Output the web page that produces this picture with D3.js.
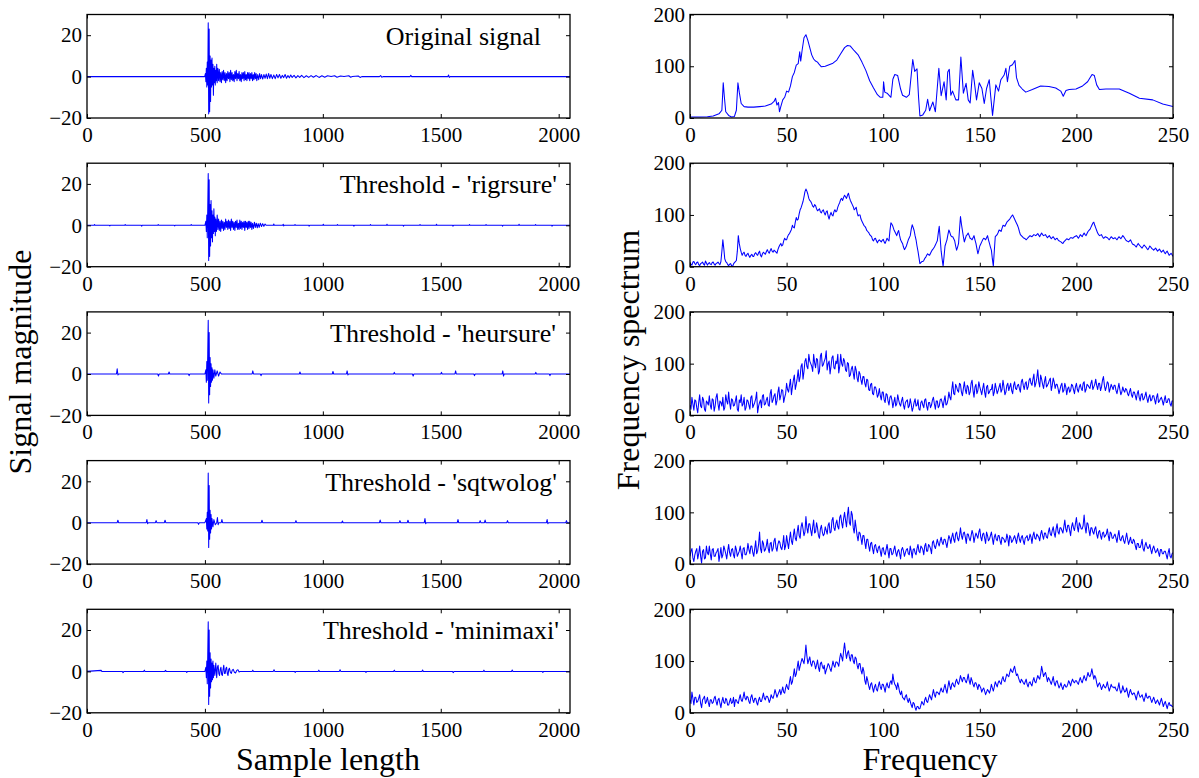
<!DOCTYPE html>
<html><head><meta charset="utf-8">
<script src="https://cdn.jsdelivr.net/npm/d3@7"></script>
<style>html,body{margin:0;padding:0;background:#fff;}</style>
</head><body>
<svg id="c" width="1199" height="778"></svg>
<script>
// ---------------- data ----------------
const leftTitles = ["Original signal","Threshold - 'rigrsure'","Threshold - 'heursure'","Threshold - 'sqtwolog'","Threshold - 'minimaxi'"];
const leftXTicks = [0,500,1000,1500,2000];
const leftYTicks = [-20,0,20];
const rightXTicks = [0,50,100,150,200,250];
const rightYTicks = [0,100,200];

// time-domain signals: [sample, magnitude]
const sigOriginal = [[0,0],[499,0],[502,1.5],[504,-2.5],[506,4],[508,-5],[510,7],[512,-4],[514,26],[516,-18],[518,23],[520,-17],[522,10],[524,-12],[526,8],[528,-5],[530,9],[532,-4],[534,6],[536,-9],[538,4],[540,-3],[542,5],[544,-4],[546,3],[548,-2],[550,6],[552,-3],[555,4],[558,-2],[561,3.5],[564,-2.5],[567,2],[570,-3],[573,2.5],[576,-1.5],[579,3],[582,-2],[585,2],[588,-3],[591,1.5],[594,-2],[597,2.5],[600,-1],[603,2],[606,-2.5],[609,3],[612,-1.5],[615,2],[618,-2],[621,1],[624,-2.5],[627,2.5],[630,-1],[633,3],[636,-2],[639,1.5],[642,-1],[645,2.5],[648,-2],[651,1],[654,-2.5],[657,2],[660,-1],[663,2],[666,-2],[669,2.5],[672,-1.5],[675,1],[678,-2],[681,2],[684,-1],[687,2],[690,-2],[693,1.5],[696,-1],[699,2],[702,-2],[705,1],[708,-1.5],[711,2],[714,-1],[717,1.5],[720,-2],[724,1],[728,-1.5],[732,1.5],[736,-1],[740,1],[745,-1.2],[750,1],[755,-0.8],[760,1.2],[765,-1],[770,1.5],[775,-0.8],[780,1],[786,-1],[792,0.8],[798,-1],[804,1],[810,-0.6],[816,1],[822,-0.8],[828,0.6],[834,-0.5],[840,1],[846,-0.8],[852,0.5],[858,-0.6],[864,0.8],[870,-0.4],[878,0.6],[886,-0.6],[894,0.5],[902,-0.4],[910,0.6],[920,-0.5],[930,0.4],[940,-0.4],[950,0.5],[960,-0.3],[972,0.5],[984,-0.4],[996,0.4],[1008,-0.3],[1020,0.4],[1035,0],[1050,0.4],[1060,-0.3],[1075,0.3],[1090,0],[1110,0.4],[1118,-0.3],[1125,0],[1150,0.3],[1158,-0.4],[1165,0],[1240,0],[1245,0.5],[1250,-0.3],[1255,0],[1370,0],[1373,0.6],[1376,0],[1530,0],[1533,0.8],[1536,-0.4],[1540,0],[2048,0]];
const sigRigrsure = [[0,0],[30,0],[32,0.4],[34,0],[95,0],[97,-0.3],[99,0],[160,0],[162,0.4],[164,0],[230,0],[232,-0.4],[234,0],[300,0],[302,0.4],[304,0],[370,0],[372,-0.3],[374,0],[440,0],[442,0.4],[444,0],[500,0],[504,2],[506,-3],[508,5],[510,-6],[512,8],[514,25],[516,-17],[518,22],[520,-15],[522,10],[524,-10],[526,12],[528,-6],[530,7],[532,-8],[534,5],[536,-4],[538,8],[540,-3],[542,4],[544,-5],[546,3],[549,-3],[552,5],[555,-2],[558,3],[561,-2.5],[564,2],[567,-3],[570,2.5],[573,-1.5],[576,2],[579,-2.5],[582,1.5],[585,-2],[588,3],[591,-1],[594,2],[597,-2],[600,2.5],[603,-1.5],[606,2],[609,-2.5],[612,3],[615,-1],[618,2],[621,-2],[624,1.5],[627,-2.5],[630,2],[633,-1],[636,2.5],[639,-2],[642,1],[645,-2],[648,2.5],[651,-1.5],[654,2],[657,-2],[660,1.5],[663,-1],[666,2],[669,-2.5],[672,2],[675,-1],[678,1.5],[681,-2],[684,2],[687,-1.5],[690,2],[693,-1],[696,1.5],[699,-2],[702,1],[706,-1.5],[710,1.5],[714,-1],[718,1],[722,-1.2],[726,0.8],[730,-1],[735,1],[740,-0.6],[745,0.8],[750,-0.5],[755,0.6],[760,0],[790,0],[792,0.6],[794,0],[830,0],[832,0.5],[834,-0.3],[836,0],[880,0],[882,0.4],[884,0],[940,0],[942,-0.4],[944,0],[1000,0],[1002,0.5],[1004,0],[1060,0],[1062,0.4],[1064,0],[1130,0],[1132,-0.4],[1134,0],[1200,0],[1202,0.4],[1204,0],[1270,0],[1272,0.5],[1274,0],[1340,0],[1342,-0.4],[1344,0],[1410,0],[1412,0.4],[1414,0],[1480,0],[1482,0.5],[1484,0],[1550,0],[1552,-0.4],[1554,0],[1620,0],[1622,0.4],[1624,0],[1690,0],[1692,0.4],[1694,0],[1760,0],[1762,-0.4],[1764,0],[1830,0],[1832,0.5],[1834,0],[1900,0],[1902,0.4],[1904,0],[1970,0],[1972,-0.4],[1974,0],[2048,0]];
const sigHeursure = [[0,0],[125,0],[128,2.5],[131,-0.5],[134,0],[300,0],[303,-1],[306,0],[345,0],[348,1],[351,0],[430,0],[433,-0.8],[436,0],[500,0],[504,2],[506,-4],[508,6],[510,-3],[512,10],[514,26],[516,-14],[518,20],[520,-10],[522,8],[524,-6],[526,5],[528,-4],[530,3],[532,-3],[534,2],[538,-2],[542,2],[546,-1],[552,1.5],[558,-1],[564,1],[570,0],[700,0],[703,1.5],[706,0],[735,0],[738,-0.8],[741,0],[900,0],[903,1],[906,0],[1040,0],[1043,1.2],[1046,0],[1100,0],[1103,1.5],[1106,-0.5],[1109,0],[1300,0],[1303,0.8],[1306,0],[1380,0],[1383,-1],[1386,0],[1500,0],[1503,0.8],[1506,0],[1560,0],[1563,1.5],[1566,0],[1640,0],[1643,-0.8],[1646,0],[1760,0],[1763,1.5],[1766,-1],[1769,0],[1900,0],[1903,0.8],[1906,0],[1960,0],[1963,-0.8],[1966,0],[2048,0]];
const sigSqtwolog = [[0,0],[128,0],[131,1.2],[134,0],[251,0],[254,1.5],[257,-0.5],[260,0],[290,0],[293,1],[296,0],[328,0],[331,1.2],[334,0],[470,0],[473,-0.8],[476,0],[500,0],[506,2],[508,-3],[510,5],[512,-4],[514,24],[516,-12],[518,18],[520,-8],[522,6],[524,-5],[526,4],[528,-3],[530,2],[534,-2],[538,1.5],[544,-1],[550,0],[553,2.5],[556,-1],[559,0],[569,0],[572,1.5],[575,0],[739,0],[742,1.2],[745,0],[883,0],[886,1],[889,0],[1080,0],[1083,0.8],[1086,0],[1240,0],[1243,1.3],[1246,0],[1324,0],[1327,1],[1330,0],[1358,0],[1361,1.2],[1364,0],[1430,0],[1433,2],[1436,-0.5],[1439,0],[1570,0],[1573,1.5],[1576,0],[1664,0],[1667,1],[1670,0],[1685,0],[1688,1.3],[1691,0],[1780,0],[1783,1],[1786,0],[1948,0],[1951,1.5],[1954,-0.5],[1957,0],[2030,0],[2033,1],[2036,0],[2048,0]];
const sigMinimaxi = [[0,0],[60,0.5],[63,0],[150,0],[153,-0.6],[156,0],[240,0],[243,0.6],[246,0],[330,0],[333,0.5],[336,0],[420,0],[423,-0.5],[426,0],[500,0],[504,2],[506,-3],[508,5],[510,-6],[512,8],[514,24],[516,-16],[518,20],[520,-12],[522,9],[524,-8],[526,6],[528,-5],[530,4],[532,-4],[534,5],[536,-3],[538,3],[542,-2],[546,4],[550,-3],[553,2],[556,3],[559,-1],[562,-2],[565,1],[568,2],[571,-1.5],[574,-2],[577,1],[580,3],[583,-1],[586,-1],[589,1.5],[592,2],[595,-1],[598,-2],[601,1],[604,1.5],[608,-0.5],[612,-1],[616,0.6],[620,1],[625,-0.4],[630,-0.8],[635,0.5],[640,0.8],[645,-0.3],[650,0],[700,0],[703,0.6],[706,0],[790,0],[793,0.8],[796,0],[880,0],[883,-0.5],[886,0],[980,0],[983,0.6],[986,0],[1070,0],[1073,0.8],[1076,0],[1180,0],[1183,-0.5],[1186,0],[1300,0],[1303,0.6],[1306,0],[1420,0],[1423,0.7],[1426,0],[1550,0],[1553,-0.6],[1556,0],[1680,0],[1683,0.6],[1686,0],[1800,0],[1803,0.7],[1806,0],[1930,0],[1933,-0.5],[1936,0],[2048,0]];

// spectra: original as [frequency, amplitude]; others: value at each whole Hz and at each half Hz
const specOriginal = [[0,2],[5,2],[9,2.5],[12,4],[15,8],[16.5,15],[17.2,68],[17.8,40],[18.5,12],[20,5],[21.5,2],[23,3],[24,15],[24.8,68],[25.5,50],[26.5,28],[28,22],[30,21],[33,21],[36,22],[39,23],[42,27],[43.5,32],[44.3,38],[45,25],[45.8,30],[46.3,12],[47,22],[48,35],[49,40],[50,52],[51,50],[52,62],[53,80],[54,88],[55,102],[56,105],[56.8,128],[57.3,110],[58,130],[59,155],[60,161],[61,150],[62,136],[63,122],[64,114],[65,110],[66,108],[67,103],[68,99],[70,100],[72,103],[74,106],[76,112],[78,124],[80,136],[81.5,140],[83,139],[85,130],[87,122],[89,108],[91,92],[93,72],[95,58],[97,45],[98.5,40],[99.8,40],[100.2,70],[100.8,50],[102,48],[104,40],[105,75],[106,84],[107.5,82],[109,56],[110,44],[112,40],[113.5,45],[115.3,113],[116.3,90],[117.5,95],[118.3,40],[119,4],[120.5,6],[122,15],[123,36],[124,14],[125.7,31],[127,12],[128.8,96],[130,43],[131.5,70],[132.6,35],[133.4,89],[134.2,94],[135,44],[135.9,52],[137.6,35],[139,35],[140.2,118],[141.5,48],[142.9,67],[144,35],[145,29],[146.3,92],[147.1,72],[148.3,35],[149.7,68],[151.1,57],[152.3,28],[153.5,57],[154.9,74],[155.7,40],[156.6,5],[158.3,64],[159.7,52],[160.9,74],[162.6,83],[163.5,96],[164.3,70],[165.5,100],[166.9,103],[168.2,111],[169,78],[170.3,63],[172,56],[173.8,50],[177.2,55],[181.5,62],[185.8,61],[189.3,58],[191.9,52],[193.2,42],[194.6,53],[196.3,55],[199.8,56],[203.2,62],[205.8,70],[208.1,84],[209.3,82],[210.5,64],[211.9,55],[215.3,56],[222.2,56],[227.4,48],[232.6,38],[239.5,35],[244.7,27],[250,22]];
const specRigrsure = [8,3,10,4,9,2,7,5,11,3, 8,4,9,3,7,6,10,52,15,8, 2,6,0,8,12,60,35,22,28,20, 26,18,24,20,27,22,30,19,28,24, 33,26,35,28,30,26,38,45,42,55, 52,62,68,80,75,95,92,110,120,135, 150,140,128,122,115,118,108,112,104,110, 100,108,92,105,98,110,108,120,130,128, 138,132,142,128,120,110,115,98,100,88, 80,75,68,62,58,50,55,46,52,48, 53,45,55,50,85,78,68,60,70,52, 45,33,40,52,60,81,70,52,30,6, 10,12,18,25,22,30,35,42,50,78, 30,1,40,52,71,60,58,50,32,45, 97,70,48,60,65,55,52,60,45,25, 40,48,55,52,60,45,32,1,58,62, 71,68,80,78,86,90,95,100,92,84, 75,62,58,55,52,56,60,58,62,60, 64,58,65,60,62,56,60,54,58,52, 55,50,48,45,50,54,52,56,55,58, 60,55,62,58,65,60,68,72,80,86, 75,65,60,62,55,58,56,52,58,54, 56,52,58,54,60,55,50,48,52,44, 42,38,45,40,36,42,38,33,40,35, 32,36,30,34,28,32,25,30,22,26, 20];
const specRigrsureHalf = [5,9,6,8,4,6,9,3,7,6, 5,8,5,6,9,4,30,35,10,4, 5,2,5,10,30,45,28,26,22,24, 21,22,20,25,24,27,22,25,26,29, 29,31,30,32,28,33,42,40,50,52, 58,64,72,76,86,90,102,114,126,145, 146,132,126,117,120,112,110,106,108,104, 106,98,100,100,106,106,115,124,132,134, 135,138,134,124,116,112,105,100,92,84, 78,70,66,60,52,54,50,50,50,51, 48,50,52,70,82,72,64,66,60,48, 38,36,46,56,72,76,60,40,18,8, 10,16,22,23,26,33,38,46,65,55, 15,20,46,62,66,58,54,40,38,72, 82,58,54,62,60,54,56,52,35,32, 44,52,54,56,52,38,15,30,60,66, 70,74,79,82,88,92,98,96,88,80, 68,60,56,54,54,58,59,60,61,62, 61,62,62,61,59,58,57,56,55,54, 52,49,46,48,52,53,54,56,56,59, 58,58,60,62,62,64,70,76,84,80, 70,62,61,58,56,57,54,55,56,55, 54,55,56,57,58,52,49,50,48,43, 40,42,42,38,39,40,35,36,38,34, 34,33,32,31,30,28,28,26,24,23];
const specHeursure = [20,35,10,28,5,40,15,30,8,25, 38,12,30,18,42,10,25,35,15,28, 45,12,30,20,38,8,25,18,35,15, 28,12,38,20,32,5,25,15,40,22, 35,18,50,30,42,28,55,38,48,35, 62,45,70,55,78,60,88,75,100,85, 110,90,105,95,118,92,108,85,120,98, 110,88,105,95,115,90,100,82,118,95, 105,85,100,78,95,70,88,65,80,60, 75,55,68,48,62,40,55,35,52,30, 45,25,40,20,38,15,35,22,30,18, 35,12,28,15,32,8,25,18,30,10, 28,15,32,10,25,20,35,12,28,18, 32,15,38,22,45,30,65,40,55,45, 60,38,65,42,55,45,68,35,60,48, 55,40,62,35,58,45,50,38,62,42, 55,45,68,40,58,48,62,42,65,50, 60,45,70,50,65,55,72,58,80,62, 88,55,70,52,75,58,68,48,72,52, 60,42,58,45,62,40,55,48,58,42, 62,45,60,48,65,50,58,52,68,55, 70,50,62,55,75,48,65,45,60,50, 58,42,62,40,55,45,50,38,52,35, 45,30,48,28,42,32,45,25,40,30, 38,22,42,28,35,20,38,25,32,18, 28];
const specHeursureHalf = [12,22,30,15,25,18,35,12,28,20, 20,32,8,35,22,28,18,10,40,22, 25,32,18,28,12,30,40,22,10,30, 20,35,15,25,45,18,30,38,20,30, 20,42,25,38,20,45,30,50,25,42, 50,58,40,68,50,72,65,95,70,105, 95,118,100,85,102,110,80,115,95,105, 125,100,80,112,92,105,118,95,100,110, 88,102,75,90,82,95,72,85,68,75, 62,70,50,60,42,55,48,40,38,45, 30,42,28,35,30,25,18,40,22,28, 20,25,30,18,22,15,32,20,12,25, 20,30,18,25,15,30,22,28,15,30, 25,28,20,30,35,50,42,60,48,62, 45,52,50,58,40,62,48,55,42,65, 48,52,45,55,42,50,60,45,52,48, 62,50,55,45,62,55,48,58,52,58, 52,65,58,62,50,68,62,70,55,72, 65,78,60,66,55,62,72,58,65,60, 52,50,62,48,55,52,45,60,50,55, 50,55,52,62,45,60,55,62,50,60, 58,62,48,68,58,55,62,52,55,58, 48,52,50,45,48,52,42,46,40,45, 38,42,35,40,30,38,33,35,28,38, 30,35,25,32,28,30,25,32,22,28];
const specSqtwolog = [15,30,5,25,10,35,2,28,12,22, 35,8,30,15,25,5,32,18,28,10, 38,15,30,12,28,20,35,10,32,18, 40,20,35,15,45,25,62,22,40,28, 48,22,42,30,50,25,45,32,38,28, 55,30,62,38,68,45,75,50,80,55, 92,60,78,55,85,62,70,50,75,55, 72,58,80,62,90,65,85,68,95,70, 100,72,110,75,95,60,70,45,60,38, 55,30,48,25,42,20,38,22,35,15, 32,18,38,12,30,20,35,15,28,10, 32,15,28,20,35,12,30,18,38,22, 32,18,40,25,35,20,45,30,48,35, 52,38,48,32,55,40,60,42,62,45, 70,48,62,40,58,45,65,42,60,50, 68,45,60,40,55,48,62,38,58,45, 55,38,50,42,58,35,52,45,55,40, 60,42,55,38,52,45,58,40,62,48, 55,45,65,48,60,50,70,55,72,52, 78,58,70,60,85,62,75,55,80,65, 90,62,75,68,95,60,78,55,70,58, 72,50,65,48,62,55,68,45,60,50, 58,42,65,45,55,40,60,38,52,40, 45,28,40,32,48,25,42,30,38,20, 35,22,30,15,28,20,25,10,30,12, 22];
const specSqtwologHalf = [25,12,18,30,20,15,25,10,35,18, 20,28,15,22,30,18,12,35,20,25, 22,28,18,35,15,25,22,30,18,25, 28,35,22,30,20,38,30,45,25,35, 30,40,25,45,32,38,42,28,55,35, 42,48,45,55,50,62,55,72,68,62, 70,78,65,72,60,80,55,68,62,58, 65,75,60,85,70,78,72,90,80,88, 85,95,80,102,70,85,55,62,50,55, 42,48,35,40,30,35,28,32,25,30, 22,28,25,30,18,28,22,25,20,28, 25,22,30,18,25,28,22,30,25,35, 28,35,25,38,30,42,35,38,40,45, 42,48,40,45,50,52,48,58,50,55, 55,60,52,58,50,55,58,52,55,62, 52,58,50,62,45,55,50,52,48,55, 45,52,48,45,50,55,42,50,48,52, 48,52,45,50,55,48,52,55,50,58, 52,58,55,60,52,62,58,65,60,68, 62,70,65,72,68,75,65,72,70,78, 72,80,68,75,72,80,65,70,62,68, 58,62,55,60,52,58,55,62,50,55, 50,55,48,52,45,50,48,45,42,48, 35,40,32,38,30,36,34,32,28,30, 28,25,22,28,20,25,18,22,15,20];
const specMinimaxi = [25,40,15,30,22,35,10,28,18,30, 12,25,20,32,15,28,10,30,18,25, 15,28,20,12,25,18,35,22,40,25, 30,18,35,20,28,15,30,22,38,25, 32,20,35,28,45,30,40,35,50,38, 55,45,70,60,85,75,100,90,105,95, 131,95,108,90,100,85,102,80,98,85, 75,88,92,80,100,88,98,90,115,100, 135,105,120,100,112,95,105,85,95,75, 80,55,62,45,58,40,55,42,60,45, 55,40,58,48,62,75,55,45,50,35, 30,25,35,20,22,10,18,5,12,8, 22,15,30,20,35,25,45,30,40,35, 48,40,55,38,62,45,58,50,65,55, 72,60,68,58,75,55,62,50,58,45, 52,40,48,35,45,38,55,42,60,50, 62,55,70,60,75,70,85,78,90,72, 68,58,62,55,65,50,60,52,68,58, 72,65,90,70,78,60,65,55,70,52, 62,48,58,45,55,50,62,52,65,58, 62,55,68,58,72,62,78,70,85,65, 68,50,58,45,55,48,60,42,55,50, 50,42,58,38,52,40,48,30,45,35, 38,25,42,30,35,22,38,28,32,20, 30,18,25,15,28,12,22,8,20,15, 12];
const specMinimaxiHalf = [18,28,30,20,28,18,25,32,22,20, 25,18,28,22,25,18,22,20,28,15, 22,18,30,25,20,28,25,30,28,32, 22,30,25,28,20,25,22,30,28,32, 28,25,30,35,38,35,45,42,40,48, 48,60,55,72,70,88,82,98,100,110, 110,102,95,100,95,92,88,95,90,92, 82,95,85,90,92,98,95,105,108,120, 118,115,108,112,100,108,92,95,82,88, 62,70,52,55,48,50,45,52,50,55, 48,52,50,58,55,62,52,58,40,42, 28,32,25,28,15,20,10,12,8,15, 18,25,22,28,30,35,35,40,38,42, 42,48,45,50,52,55,52,60,58,62, 65,68,62,65,62,68,55,58,52,55, 48,45,42,40,42,45,48,50,55,58, 58,65,62,68,72,78,80,85,80,75, 62,65,58,60,55,58,55,62,60,65, 68,75,80,75,70,68,60,62,58,60, 55,52,50,52,50,55,58,60,60,62, 58,62,62,65,66,70,72,75,75,72, 58,55,52,50,50,52,50,48,50,48, 45,48,45,42,45,42,38,40,38,38, 32,35,35,32,28,30,30,32,26,25, 24,22,20,22,20,18,15,16,14,12];

// merge whole-Hz and half-Hz readings into [frequency, value] pairs
function pairs(whole, half){
  const out = [];
  whole.forEach((v,i)=>{ out.push([i,v]); if(i < half.length) out.push([i+0.5, half[i]]); });
  return out;
}
const leftSeries = [sigOriginal, sigRigrsure, sigHeursure, sigSqtwolog, sigMinimaxi];
const rightSeries = [specOriginal, pairs(specRigrsure,specRigrsureHalf), pairs(specHeursure,specHeursureHalf), pairs(specSqtwolog,specSqtwologHalf), pairs(specMinimaxi,specMinimaxiHalf)];

// ---------------- layout ----------------
const svg = d3.select("#c");
svg.append("rect").attr("width",1199).attr("height",778).attr("fill","#fff");
const FONT = "'Liberation Serif','Times New Roman',Times,serif";
const rowTop = i => 14.5 + i*148.7;
const panelH = 103.5;
const L = {x0:87, x1:570}, R = {x0:690, x1:1173};

function panel(idx, side, data, xDom, yDom, xTicks, yTicks, title, titleEnd){
  const top = rowTop(idx), bot = top + panelH;
  const x = d3.scaleLinear().domain(xDom).range([side.x0, side.x1]);
  const y = d3.scaleLinear().domain(yDom).range([bot, top]);
  const g = svg.append("g");
  const cid = "clip"+idx+(side===L?"L":"R");
  svg.append("clipPath").attr("id",cid).append("rect")
     .attr("x",side.x0).attr("y",top).attr("width",side.x1-side.x0).attr("height",panelH);
  g.append("path").datum(data)
    .attr("clip-path","url(#"+cid+")")
    .attr("fill","none").attr("stroke","#0000ff").attr("stroke-width",1.05)
    .attr("stroke-linejoin","round")
    .attr("d", d3.line().x(d=>x(d[0])).y(d=>y(d[1])));
  const styleAxis = (sel, labels) => {
    sel.attr("font-family",null).attr("font-size",null);
    sel.select(".domain").remove();
    sel.selectAll(".tick line").attr("stroke","#000").attr("stroke-width",1);
    sel.selectAll(".tick text").style("font-family",FONT).style("font-size","21px").attr("fill","#000");
    if(!labels) sel.selectAll(".tick text").remove();
  };
  g.append("g").attr("transform",`translate(0,${bot})`)
    .call(d3.axisBottom(x).tickValues(xTicks).tickSize(-4).tickPadding(9).tickFormat(d3.format("d")))
    .call(s=>styleAxis(s,true));
  g.append("g").attr("transform",`translate(0,${top})`)
    .call(d3.axisTop(x).tickValues(xTicks).tickSize(-4))
    .call(s=>styleAxis(s,false));
  g.append("g").attr("transform",`translate(${side.x0},0)`)
    .call(d3.axisLeft(y).tickValues(yTicks).tickSize(-4).tickPadding(5).tickFormat(d3.format("d")))
    .call(s=>styleAxis(s,true));
  g.append("g").attr("transform",`translate(${side.x1},0)`)
    .call(d3.axisRight(y).tickValues(yTicks).tickSize(-4))
    .call(s=>styleAxis(s,false));
  g.append("rect").attr("x",side.x0).attr("y",top).attr("width",side.x1-side.x0).attr("height",panelH)
    .attr("fill","none").attr("stroke","#000").attr("stroke-width",1.3);
  if(title){
    g.append("text").attr("x",titleEnd).attr("y",top+30).attr("text-anchor","end")
      .style("font-family",FONT).style("font-size","26px").attr("fill","#000").text(title);
  }
}

const titleEnds = [541,557,556,557,559];
for(let i=0;i<5;i++){
  panel(i, L, leftSeries[i], [0,2048], [-20,30], leftXTicks, leftYTicks, leftTitles[i], titleEnds[i]);
  panel(i, R, rightSeries[i], [0,250], [0,200], rightXTicks, rightYTicks, null, 0);
}

// axis labels
const lab = (tr, txt) => svg.append("text").attr("transform",tr).attr("text-anchor","middle")
  .style("font-family",FONT).style("font-size","32px").attr("fill","#000").text(txt);
lab("translate(328,770)","Sample length");
lab("translate(930,770)","Frequency");
lab("translate(31,362) rotate(-90)","Signal magnitude");
lab("translate(639,360) rotate(-90)","Frequency spectrum");
</script>
</body></html>
